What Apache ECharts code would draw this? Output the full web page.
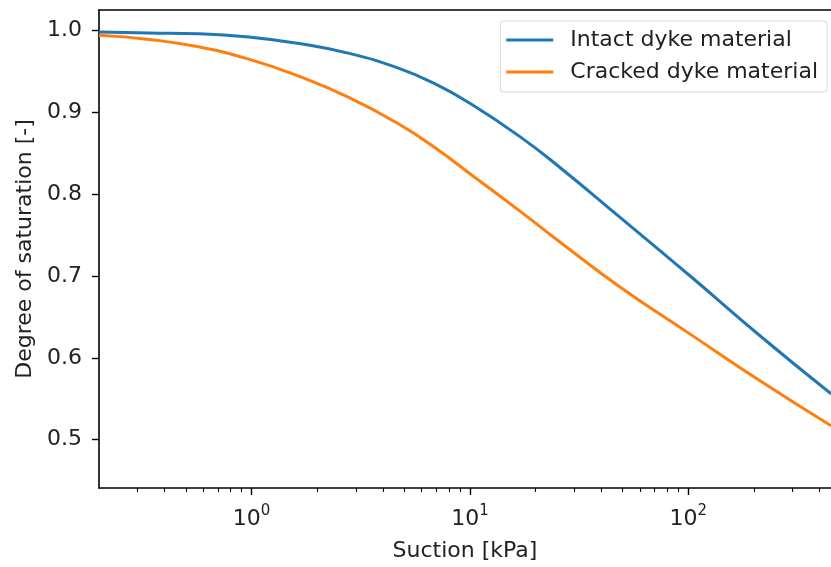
<!DOCTYPE html>
<html>
<head>
<meta charset="utf-8">
<script src="https://cdn.jsdelivr.net/npm/echarts@6/dist/echarts.min.js"></script>
<style>
    html, body { margin: 0; padding: 0; background: #fff; }
    #chart { width: 831px; height: 567px; }
</style>
</head>
<body>
<div id="chart"></div>
<script>
    // suction values [kPa] and saturation
    var suction = [0.2, 0.34, 0.57, 0.97, 1.65, 2.8, 4.7, 6.9, 10, 17, 26, 49, 102, 213, 451];
    var intact = [0.998, 0.997, 0.996, 0.992, 0.984, 0.972, 0.954, 0.935, 0.911, 0.870, 0.832, 0.771, 0.700, 0.627, 0.556];
    var cracked = [0.994, 0.989, 0.980, 0.965, 0.944, 0.918, 0.886, 0.857, 0.825, 0.779, 0.741, 0.686, 0.629, 0.572, 0.517];

    var majorX = [1, 10, 100];
    var minorX = [0.3, 0.4, 0.5, 0.6, 0.7, 0.8, 0.9, 2, 3, 4, 5, 6, 7, 8, 9,
                  20, 30, 40, 50, 60, 70, 80, 90, 200, 300, 400];
    var yTicks = [0.5, 0.6, 0.7, 0.8, 0.9, 1.0];

    function pairs(xs, ys) {
        return xs.map(function (x, i) { return [x, ys[i]]; });
    }

    var chart = echarts.init(document.getElementById('chart'));
    var font = 'DejaVu Sans';
    var fs = 22;
    var spine = { color: '#000', width: 1.6 };
    var option = {
        animation: false,
        textStyle: { fontFamily: font, color: '#222' },
        grid: { left: 99, top: 10, right: 0, bottom: 77 },
        legend: {
            orient: 'vertical',
            right: 4, top: 21,
            padding: [8, 9, 9, 6],
            itemGap: 10,
            itemWidth: 47, itemHeight: 3,
            icon: 'rect',
            borderColor: '#d6d6d6', borderWidth: 1, borderRadius: 3,
            textStyle: { fontSize: fs, fontFamily: font, color: '#222', lineHeight: 22, padding: [0, 0, 0, 12] },
            data: ['Intact dyke material', 'Cracked dyke material']
        },
        xAxis: [{
            type: 'log', logBase: 10,
            min: 0.2, max: 450.5,
            position: 'bottom',
            name: 'Suction [kPa]',
            nameLocation: 'middle', nameGap: 52,
            nameTextStyle: { fontSize: fs, fontFamily: font, color: '#222' },
            axisLine: { show: true, lineStyle: spine },
            splitLine: { show: false },
            axisTick: { show: true, inside: false, length: 7, customValues: majorX,
                lineStyle: { color: '#000', width: 1.4 } },
            axisLabel: {
                customValues: majorX,
                margin: 12,
                formatter: function (v) {
                    return '{b|10}{s|' + Math.round(Math.log10(v)) + '}';
                },
                rich: {
                    b: { fontSize: fs, fontFamily: font, color: '#222', padding: [8, 0, 0, 0] },
                    s: { fontSize: 15, fontFamily: font, color: '#222', padding: [0, 0, 8, 0] }
                }
            }
        }, {
            // minor ticks
            type: 'log', logBase: 10,
            min: 0.2, max: 450.5,
            position: 'bottom',
            axisLine: { show: false },
            splitLine: { show: false },
            axisLabel: { show: false },
            axisTick: { show: true, inside: false, length: 4, customValues: minorX,
                lineStyle: { color: '#000', width: 1.1 } }
        }, {
            // top spine
            type: 'log', logBase: 10,
            min: 0.2, max: 450.5,
            position: 'top',
            axisLine: { show: true, lineStyle: spine },
            splitLine: { show: false },
            axisLabel: { show: false },
            axisTick: { show: false }
        }],
        yAxis: {
            type: 'value',
            min: 0.441, max: 1.025,
            name: 'Degree of saturation [-]',
            nameLocation: 'middle', nameGap: 60,
            nameTextStyle: { fontSize: fs, fontFamily: font, color: '#222' },
            axisLine: { show: true, lineStyle: spine },
            splitLine: { show: false },
            axisTick: { show: true, inside: false, length: 7, customValues: yTicks,
                lineStyle: { color: '#000', width: 1.4 } },
            axisLabel: {
                customValues: yTicks,
                margin: 17,
                fontSize: fs, fontFamily: font, color: '#222',
                formatter: function (v) { return v.toFixed(1); }
            }
        },
        series: [{
            name: 'Intact dyke material',
            type: 'line',
            xAxisIndex: 0,
            data: pairs(suction, intact),
            smooth: 0.5,
            symbol: 'none',
            lineStyle: { color: '#1f77b4', width: 3 },
            itemStyle: { color: '#1f77b4' }
        }, {
            name: 'Cracked dyke material',
            type: 'line',
            xAxisIndex: 0,
            data: pairs(suction, cracked),
            smooth: 0.5,
            symbol: 'none',
            lineStyle: { color: '#ff7f0e', width: 3 },
            itemStyle: { color: '#ff7f0e' }
        }]
    };
    chart.setOption(option);
</script>
</body>
</html>
